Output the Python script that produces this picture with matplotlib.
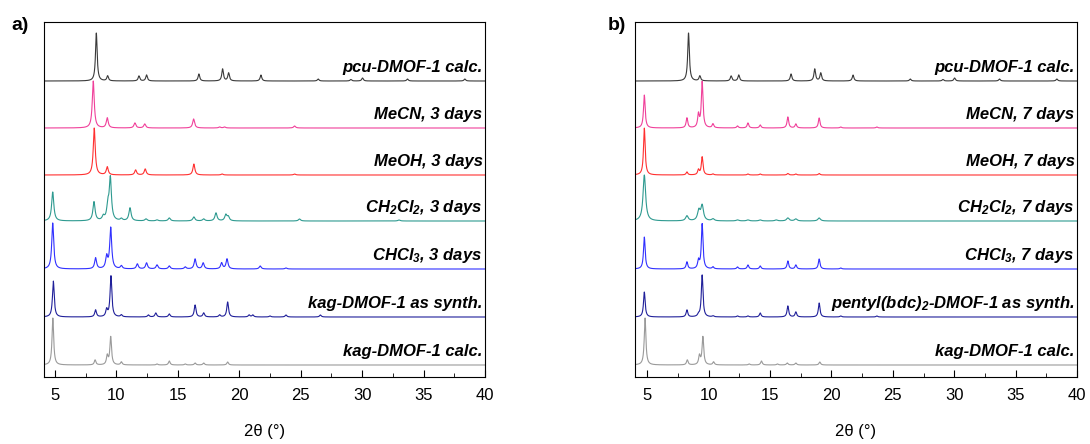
import numpy as np
import matplotlib.pyplot as plt
from matplotlib.ticker import MultipleLocator

plt.rcParams['font.family'] = ['Liberation Sans', 'DejaVu Sans']
plt.rcParams['mathtext.fontset'] = 'custom'
plt.rcParams['mathtext.rm'] = 'Liberation Sans:bold:italic'
plt.rcParams['mathtext.it'] = 'Liberation Sans:bold:italic'
plt.rcParams['mathtext.bf'] = 'Liberation Sans:bold:italic'

# peak positions (2theta, deg) and heights (arbitrary units)
pcu_calc_pos = [8.36, 9.28, 11.83, 12.45, 16.71, 18.64, 19.13, 21.76, 26.42, 29.08, 30.03, 33.69, 38.36]
pcu_calc_h = [48, 5, 5, 6, 7, 12, 8, 6, 2, 1.5, 3, 2, 2]

kag_calc_pos = [4.82, 8.26, 9.25, 9.53, 10.4, 13.3, 14.3, 15.6, 16.4, 17.1, 19.05]
kag_calc_h = [47, 5, 9, 28, 3, 1, 4, 1, 2, 2, 3]

# panel a
meCN3_pos = [8.11, 9.25, 11.5, 12.3, 16.28, 18.4, 18.8, 24.5]
meCN3_h = [47, 10, 5, 4, 9, 1, 1, 2]
meOH3_pos = [8.19, 9.25, 11.56, 12.34, 16.3, 18.6, 24.5]
meOH3_h = [47, 8, 5, 6, 11, 1, 1]
dcm3_pos = [4.81, 8.17, 8.93, 9.3, 9.5, 10.4, 11.1, 12.4, 13.3, 14.3, 16.3, 17.1, 18.1, 18.9, 19.1, 24.9, 33.0]
dcm3_h = [29, 19, 4, 14, 42, 2, 13, 2, 1, 3, 4, 2, 8, 6, 4, 2, 1]
chcl3_3_pos = [4.81, 8.3, 9.2, 9.53, 10.4, 11.7, 12.45, 13.3, 14.3, 15.6, 16.4, 17.06, 18.56, 19.0, 21.7, 23.8]
chcl3_3_h = [46, 11, 12, 41, 3, 5, 6, 4, 3, 2, 10, 6, 6, 10, 3, 1]
kag_syn_pos = [4.86, 8.3, 9.2, 9.55, 10.4, 12.6, 13.2, 14.3, 16.4, 17.1, 18.4, 19.05, 20.8, 21.1, 22.5, 23.8, 26.6]
kag_syn_h = [36, 7, 7, 41, 2, 2, 4, 3, 12, 4, 2, 15, 2, 2, 1, 2, 2]

# panel b
meCN7_pos = [4.76, 8.23, 9.17, 9.47, 10.35, 12.35, 13.2, 14.2, 16.45, 17.1, 19.0, 20.76, 23.7]
meCN7_h = [33, 10, 13, 46, 4, 2, 5, 3, 11, 4, 10, 1, 1]
meOH7_pos = [4.76, 8.23, 9.17, 9.47, 10.35, 13.2, 14.2, 16.45, 17.1, 19.0]
meOH7_h = [47, 3, 5, 18, 1, 1, 1, 1.5, 1, 1.5]
dcm7_pos = [4.76, 8.23, 9.2, 9.47, 10.35, 12.35, 13.2, 14.2, 15.5, 16.45, 17.1, 19.0]
dcm7_h = [46, 5, 10, 15, 2, 1, 1, 1, 1, 3, 2, 3]
chcl3_7_pos = [4.76, 8.23, 9.17, 9.47, 10.35, 12.35, 13.2, 14.2, 16.45, 17.1, 19.0, 20.76]
chcl3_7_h = [32, 7, 8, 45, 2, 2, 4, 3, 8, 4, 10, 1]
pentyl_pos = [4.76, 8.23, 9.17, 9.47, 10.35, 12.35, 13.2, 14.2, 16.45, 17.1, 19.0, 20.76, 23.7]
pentyl_h = [25, 7, 2, 42, 1, 1, 1, 4, 11, 5, 14, 1, 1]

labels_a = ['pcu-DMOF-1 calc.', 'MeCN, 3 days', 'MeOH, 3 days', 'CH$_2$Cl$_2$, 3 days',
            'CHCl$_3$, 3 days', 'kag-DMOF-1 as synth.', 'kag-DMOF-1 calc.']
labels_b = ['pcu-DMOF-1 calc.', 'MeCN, 7 days', 'MeOH, 7 days', 'CH$_2$Cl$_2$, 7 days',
            'CHCl$_3$, 7 days', 'pentyl(bdc)$_2$-DMOF-1 as synth.', 'kag-DMOF-1 calc.']

colors = ['#3a3a3a', '#f0409a', '#ff3030', '#2e9a90', '#3030ff', '#20209a', '#9a9a9a']
offsets = [296, 249, 202, 156, 108, 60, 12]


def pattern(x, pos, heights, width):
    y = np.zeros_like(x)
    for p, h in zip(pos, heights):
        y += h / (1 + ((x - p) / (width / 2)) ** 2)
    return y


def draw_panel(ax, traces, labels):
    x = np.linspace(4.0, 40.0, 4000)
    for (pos, h, w), lab, col, off in zip(traces, labels, colors, offsets):
        ax.plot(x, pattern(x, pos, h, w) + off, color=col, lw=0.8)
        ax.text(39.8, off + 9, lab, ha='right', va='baseline', fontsize=12,
                fontweight='bold', style='italic')
    ax.set_xlim(4.1, 40)
    ax.set_ylim(0, 355)
    ax.set_yticks([])
    ax.xaxis.set_major_locator(MultipleLocator(5))
    ax.xaxis.set_minor_locator(MultipleLocator(2.5))
    ax.tick_params(axis='x', which='major', direction='in', length=5, labelsize=12, pad=8)
    ax.tick_params(axis='x', which='minor', direction='in', length=3)
    ax.set_xlabel('2θ (°)', fontsize=12, labelpad=15)


def main():
    fig = plt.figure(figsize=(10.9, 4.44), dpi=100)
    ax_a = fig.add_axes([44 / 1090, 67 / 444, 441 / 1090, 355 / 444])
    ax_b = fig.add_axes([635 / 1090, 67 / 444, 442 / 1090, 355 / 444])

    traces_a = [(pcu_calc_pos, pcu_calc_h, 0.16), (meCN3_pos, meCN3_h, 0.19),
                (meOH3_pos, meOH3_h, 0.19), (dcm3_pos, dcm3_h, 0.21),
                (chcl3_3_pos, chcl3_3_h, 0.19), (kag_syn_pos, kag_syn_h, 0.17),
                (kag_calc_pos, kag_calc_h, 0.16)]
    traces_b = [(pcu_calc_pos, pcu_calc_h, 0.16), (meCN7_pos, meCN7_h, 0.16),
                (meOH7_pos, meOH7_h, 0.16), (dcm7_pos, dcm7_h, 0.25),
                (chcl3_7_pos, chcl3_7_h, 0.16), (pentyl_pos, pentyl_h, 0.16),
                (kag_calc_pos, kag_calc_h, 0.16)]
    draw_panel(ax_a, traces_a, labels_a)
    draw_panel(ax_b, traces_b, labels_b)
    ax_b.set_xlim(4.0, 40)

    fig.text(20 / 1090, 1 - 26 / 444, 'a)', fontsize=14, fontweight='bold', ha='center', va='center')
    fig.text(617 / 1090, 1 - 26 / 444, 'b)', fontsize=14, fontweight='bold', ha='center', va='center')

    fig.savefig('out.png', dpi=100)


if __name__ == '__main__':
    main()
